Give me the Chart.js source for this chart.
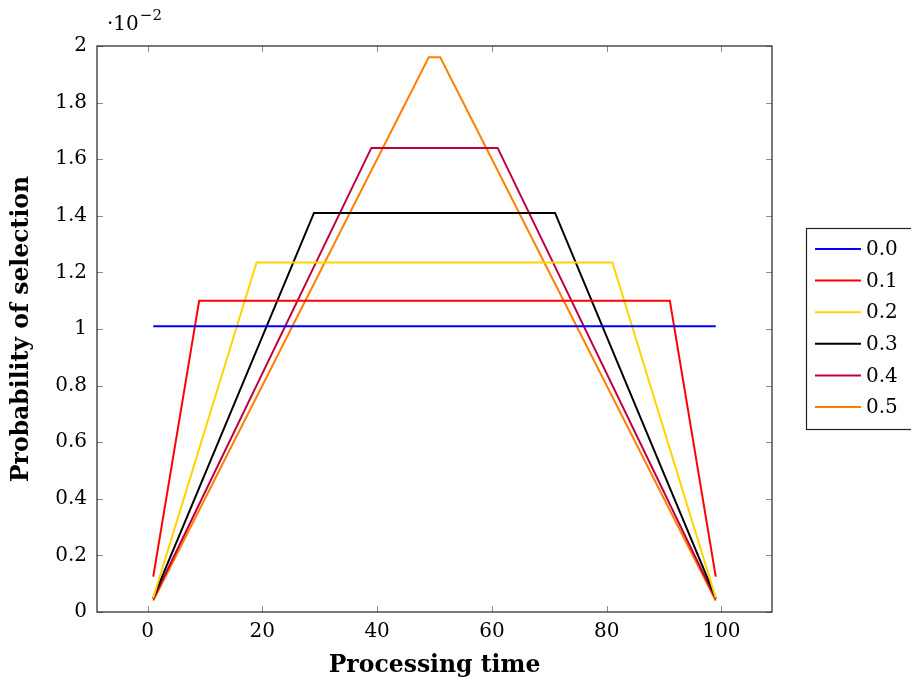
<!DOCTYPE html>
<html>
<head>
<meta charset="utf-8">
<script src="https://cdn.jsdelivr.net/npm/chart.js@4.4.1/dist/chart.umd.min.js"></script>
<style>
  html, body { margin: 0; padding: 0; background: #fff; }
  canvas { display: block; }
</style>
</head>
<body>
<canvas id="chart" width="911" height="684"></canvas>
<script>
// Selection pressure levels (legend entries)
const pressures = ['0.0', '0.1', '0.2', '0.3', '0.4', '0.5'];

// Corner points of each probability curve: processing time and probability
const times00 = [1, 99];
const probs00 = [0.0101, 0.0101];

const times01 = [1, 9, 91, 99];
const probs01 = [0.00125, 0.0110, 0.0110, 0.00125];

const times02 = [1, 19, 81, 99];
const probs02 = [0.0005, 0.01235, 0.01235, 0.0005];

const times03 = [1, 29, 71, 99];
const probs03 = [0.0005, 0.0141, 0.0141, 0.0005];

const times04 = [1, 39, 61, 99];
const probs04 = [0.00045, 0.0164, 0.0164, 0.00045];

const times05 = [1, 49, 51, 99];
const probs05 = [0.0004, 0.0196, 0.0196, 0.0004];

const xTicks = [0, 20, 40, 60, 80, 100];
const yTicks = [0, 0.002, 0.004, 0.006, 0.008, 0.010, 0.012, 0.014, 0.016, 0.018, 0.020];

const lineColors = ['#0000ff', '#ff0000', '#ffd400', '#000000', '#bf0040', '#ff8000'];

const seriesTimes = [times00, times01, times02, times03, times04, times05];
const seriesProbs = [probs00, probs01, probs02, probs03, probs04, probs05];

const FONT = '"DejaVu Serif", "Liberation Serif", serif';

const datasets = pressures.map((p, i) => ({
  label: p,
  data: seriesTimes[i].map((t, k) => ({ x: t, y: seriesProbs[i][k] })),
  borderColor: lineColors[i],
  backgroundColor: lineColors[i],
  borderWidth: 2,
  pointRadius: 0,
  tension: 0,
  fill: false
}));

// Inward tick marks on all four sides, an exponent note, and a boxed legend
const decorations = {
  id: 'decorations',
  afterDraw(chart) {
    const { ctx, chartArea: a, scales: { x, y } } = chart;
    ctx.save();
    ctx.strokeStyle = '#8c8c8c';
    ctx.lineWidth = 1;
    const L = 6;
    xTicks.forEach(v => {
      const px = Math.round(x.getPixelForValue(v)) + 0.5;
      ctx.beginPath();
      ctx.moveTo(px, a.bottom); ctx.lineTo(px, a.bottom - L);
      ctx.moveTo(px, a.top); ctx.lineTo(px, a.top + L);
      ctx.stroke();
    });
    yTicks.forEach(v => {
      const py = Math.round(y.getPixelForValue(v)) + 0.5;
      ctx.beginPath();
      ctx.moveTo(a.left, py); ctx.lineTo(a.left + L, py);
      ctx.moveTo(a.right, py); ctx.lineTo(a.right - L, py);
      ctx.stroke();
    });
    // frame
    ctx.strokeStyle = '#222';
    ctx.lineWidth = 1.2;
    ctx.strokeRect(a.left, a.top, a.right - a.left, a.bottom - a.top);

    // exponent note above the y axis
    ctx.fillStyle = '#000';
    ctx.textBaseline = 'alphabetic';
    ctx.textAlign = 'left';
    ctx.font = '20px ' + FONT;
    ctx.fillText('\u00B710', a.left + 10, 30);
    const w = ctx.measureText('\u00B710').width;
    ctx.font = '15px ' + FONT;
    ctx.fillText('\u22122', a.left + 10 + w + 1, 20);

    // legend box
    const bx = 806, by = 228, bw = 110, bh = 201;
    ctx.fillStyle = '#fff';
    ctx.fillRect(bx, by, bw, bh);
    ctx.strokeStyle = '#222';
    ctx.lineWidth = 1.2;
    ctx.strokeRect(bx + 0.5, by + 0.5, bw, bh);
    ctx.font = '20px ' + FONT;
    ctx.textBaseline = 'middle';
    pressures.forEach((p, i) => {
      const cy = by + 21 + i * 31.6;
      ctx.strokeStyle = lineColors[i];
      ctx.lineWidth = 2;
      ctx.beginPath();
      ctx.moveTo(815, cy); ctx.lineTo(861, cy);
      ctx.stroke();
      ctx.fillStyle = '#000';
      ctx.fillText(p, 866, cy + 1);
    });
    ctx.restore();
  }
};

new Chart(document.getElementById('chart'), {
  type: 'line',
  data: { datasets },
  options: {
    responsive: false,
    animation: false,
    layout: { padding: { left: 8, right: 139, top: 46, bottom: 4 } },
    plugins: { legend: { display: false }, tooltip: { enabled: false } },
    scales: {
      x: {
        type: 'linear',
        min: -8.8,
        max: 108.8,
        afterBuildTicks(scale) { scale.ticks = xTicks.map(v => ({ value: v })); },
        afterFit(scale) { scale.height = 68; },
        grid: { display: false, drawTicks: false },
        border: { display: false },
        ticks: {
          color: '#000',
          padding: 8,
          maxRotation: 0,
          font: { family: FONT, size: 20 },
          callback: v => String(v)
        },
        title: {
          display: true,
          text: 'Processing time',
          color: '#000',
          font: { family: FONT, size: 23.5, weight: 'bold' },
          padding: { top: 4, bottom: 0 }
        }
      },
      y: {
        type: 'linear',
        min: 0,
        max: 0.02,
        afterBuildTicks(scale) { scale.ticks = yTicks.map(v => ({ value: v })); },
        afterFit(scale) { scale.width = 89; },
        grid: { display: false, drawTicks: false },
        border: { display: false },
        ticks: {
          color: '#000',
          padding: 10,
          font: { family: FONT, size: 20 },
          callback: v => String(parseFloat((v * 100).toFixed(1)))
        },
        title: {
          display: true,
          text: 'Probability of selection',
          color: '#000',
          font: { family: FONT, size: 23.5, weight: 'bold' },
          padding: { top: 0, bottom: 4 }
        }
      }
    }
  },
  plugins: [decorations]
});
</script>
</body>
</html>
